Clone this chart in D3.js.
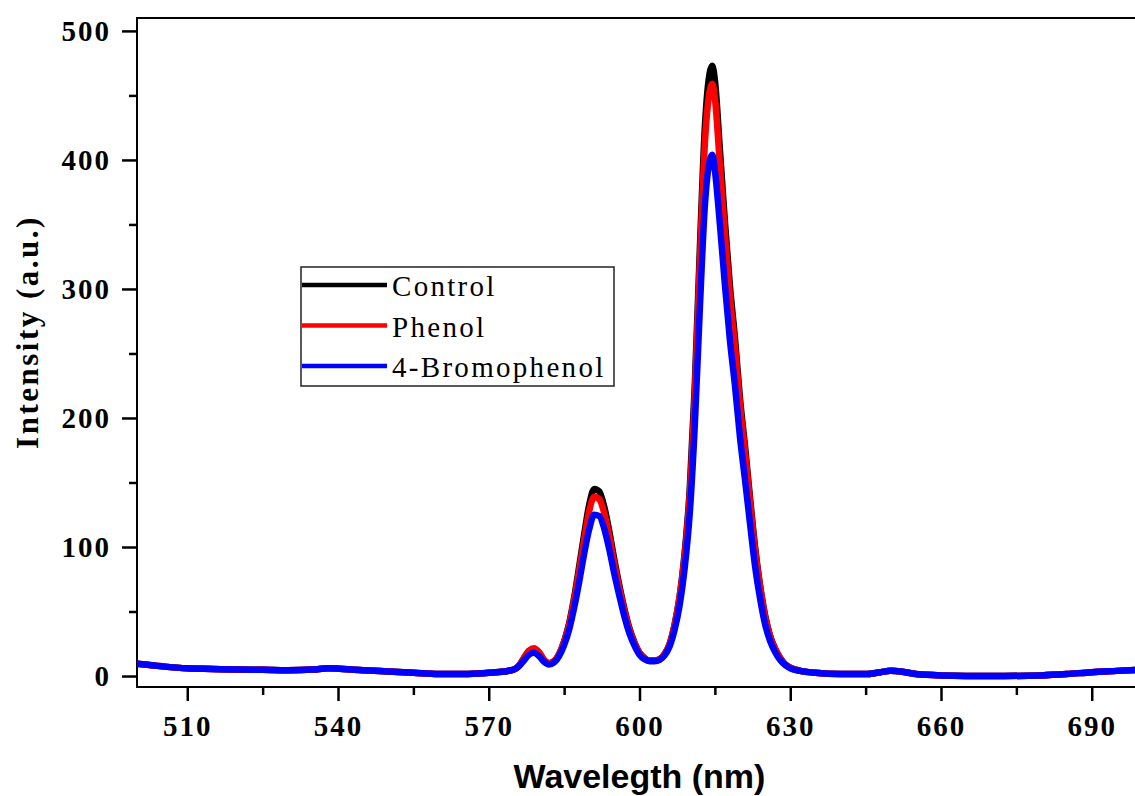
<!DOCTYPE html>
<html>
<head>
<meta charset="utf-8">
<script src="https://cdn.jsdelivr.net/npm/d3@7"></script>
<style>
  body { margin: 0; background: #fff; }
  svg { display: block; }
</style>
</head>
<body>
<div id="chart"></div>
<script>
// wavelength (nm)
const wavelengths = [500, 505, 510, 515, 520, 525, 530, 535, 538, 541, 545, 550, 555, 560, 565, 570, 573, 575,
  576, 577, 578, 579, 580, 581, 582, 583, 584, 585, 586, 587, 588, 589, 590, 591, 592, 593, 594, 595, 596, 597,
  598, 599, 600, 601, 602, 603, 604, 605, 606, 607, 608, 609, 610, 611, 612, 613, 614, 614.5, 615, 616, 617,
  618, 619, 620, 621, 622, 623, 624, 625, 626, 627, 628, 629, 630, 632, 635, 640, 645, 648, 650, 652, 655, 660,
  670, 680, 685, 690, 695, 700];

const controlValues = [9.5, 7.5, 6, 5.5, 5, 4.8, 4.5, 5, 6, 5.5, 4.5, 3.5, 2.5, 1.5, 1.5, 2.5, 3.5, 5,
  8, 14, 19.5, 21, 18, 12.5, 10, 11.5, 17, 27, 41, 61, 85, 110, 133, 145, 143, 131, 112, 90, 70, 52,
  37, 26, 18, 14, 12, 12, 13, 17, 25, 40, 62, 96, 145, 225, 330, 425, 468, 473, 462, 408, 352,
  302, 262, 215, 178, 138, 100, 70, 47, 31, 21, 14, 9, 6.5, 4, 2.5, 1.5, 1.5, 3, 4, 3.5, 1.5, 0.5,
  0, 0.5, 1.5, 3, 4, 5];

const phenolValues = [9.5, 7.5, 6, 5.5, 5, 4.8, 4.5, 5, 6, 5.5, 4.5, 3.5, 2.5, 1.5, 1.5, 2.5, 3.5, 5,
  8, 14, 19.5, 21.5, 18.5, 12.5, 10, 11.5, 17, 26.5, 40, 59, 82, 106, 128, 139, 137, 126, 108, 87, 68, 50.5,
  36, 25.5, 18, 14, 12, 12, 13, 17, 25, 40, 62, 94, 141, 218, 320, 412, 454, 459, 448, 396, 343,
  294, 256, 210, 174, 135, 98, 69, 46, 30.5, 21, 14, 9, 6.5, 4, 2.5, 1.5, 1.5, 3, 4, 3.5, 1.5, 0.5,
  0, 0.5, 1.5, 3, 4, 5];

const bromophenolValues = [9.5, 7.5, 6, 5.5, 5, 4.8, 4.5, 5, 6, 5.5, 4.5, 3.5, 2.5, 1.5, 1.5, 2.5, 3.5, 5,
  7.5, 12, 16.5, 18, 15.5, 11, 9, 10.5, 15.5, 24, 36, 53, 73, 95, 114, 125, 124, 114, 98, 79, 62, 46,
  33, 23.5, 16.5, 13, 11.5, 11.5, 12.5, 16, 23, 36, 55, 84, 126, 194, 284, 364, 400, 404, 392, 350, 303,
  260, 225, 185, 152, 118, 85, 60, 40, 27, 18.5, 12.5, 8.5, 6, 4, 2.5, 1.5, 1.5, 3, 4, 3.5, 1.5, 0.5,
  0, 0.5, 1.5, 3, 4, 5];

const seriesNames = ["Control", "Phenol", "4-Bromophenol"];
const seriesColors = ["#000000", "#ff0000", "#0000ff"];

const xMajorTicks = [510, 540, 570, 600, 630, 660, 690];
const xMinorTicks = [525, 555, 585, 615, 645, 675];
const yMajorTicks = [0, 100, 200, 300, 400, 500];
const yMinorTicks = [50, 150, 250, 350, 450];

const width = 1135, height = 796;
const plot = { left: 137, top: 18, bottom: 687, right: 1142 };

const svg = d3.select("#chart")
  .append("svg")
  .attr("width", width)
  .attr("height", height);

const x = d3.scaleLinear()
  .domain([500, 700])
  .range([plot.left, plot.right]);

const y = d3.scaleLinear()
  .domain([-8.5, 510])
  .range([plot.bottom, plot.top]);

const serifFont = "'Liberation Serif', 'Times New Roman', serif";

// frame (top + left + bottom lines)
svg.append("rect")
  .attr("x", plot.left)
  .attr("y", plot.top)
  .attr("width", plot.right - plot.left)
  .attr("height", plot.bottom - plot.top)
  .attr("fill", "none")
  .attr("stroke", "#000")
  .attr("stroke-width", 2);

// X axis
const xAxis = svg.append("g")
  .attr("transform", `translate(0, ${plot.bottom})`)
  .call(d3.axisBottom(x).tickValues(xMajorTicks).tickSize(14).tickSizeOuter(0).tickPadding(14));
xAxis.select(".domain").remove();
xAxis.selectAll(".tick line").attr("stroke-width", 2.5);
xAxis.selectAll(".tick text")
  .attr("font-family", serifFont)
  .attr("font-weight", "bold")
  .attr("font-size", "29px")
  .attr("letter-spacing", "2px")
  .attr("fill", "#000");

svg.append("g")
  .attr("transform", `translate(0, ${plot.bottom})`)
  .call(d3.axisBottom(x).tickValues(xMinorTicks).tickSize(8).tickSizeOuter(0).tickFormat(""))
  .call(g => g.select(".domain").remove())
  .selectAll(".tick line").attr("stroke-width", 2.5);

// Y axis
const yAxis = svg.append("g")
  .attr("transform", `translate(${plot.left}, 0)`)
  .call(d3.axisLeft(y).tickValues(yMajorTicks).tickSize(15).tickSizeOuter(0).tickPadding(11));
yAxis.select(".domain").remove();
yAxis.selectAll(".tick line").attr("stroke-width", 2.5);
yAxis.selectAll(".tick text")
  .attr("font-family", serifFont)
  .attr("font-weight", "bold")
  .attr("font-size", "29px")
  .attr("letter-spacing", "2px")
  .attr("fill", "#000");

svg.append("g")
  .attr("transform", `translate(${plot.left}, 0)`)
  .call(d3.axisLeft(y).tickValues(yMinorTicks).tickSize(8).tickSizeOuter(0).tickFormat(""))
  .call(g => g.select(".domain").remove())
  .selectAll(".tick line").attr("stroke-width", 2.5);

// Lines
const seriesValues = [controlValues, phenolValues, bromophenolValues];
const line = d3.line()
  .x(d => x(d[0]))
  .y(d => y(d[1]))
  .curve(d3.curveMonotoneX);

svg.append("clipPath").attr("id", "plotClip")
  .append("rect")
  .attr("x", plot.left)
  .attr("y", plot.top)
  .attr("width", plot.right - plot.left)
  .attr("height", plot.bottom - plot.top);

svg.append("g")
  .attr("clip-path", "url(#plotClip)")
  .selectAll("path")
  .data(seriesValues)
  .enter()
  .append("path")
  .attr("d", vals => line(wavelengths.map((w, i) => [w, vals[i]])))
  .attr("fill", "none")
  .attr("stroke", (d, i) => seriesColors[i])
  .attr("stroke-width", 6.5)
  .attr("stroke-linejoin", "round");

// Legend
const legend = svg.append("g");
legend.append("rect")
  .attr("x", 301)
  .attr("y", 267)
  .attr("width", 313)
  .attr("height", 119)
  .attr("fill", "#fff")
  .attr("stroke", "#222")
  .attr("stroke-width", 1.5);

const legendItems = legend.selectAll(".item")
  .data(seriesNames)
  .enter()
  .append("g")
  .attr("class", "item")
  .attr("transform", (d, i) => `translate(0, ${285 + i * 40.5})`);

legendItems.append("line")
  .attr("x1", 302)
  .attr("x2", 387)
  .attr("stroke", (d, i) => seriesColors[i])
  .attr("stroke-width", 4.5);

legendItems.append("text")
  .attr("x", 392)
  .attr("y", 11)
  .attr("font-family", serifFont)
  .attr("font-size", "29px")
  .attr("letter-spacing", "2.3px")
  .attr("fill", "#000")
  .text(d => d);

// Axis titles
svg.append("text")
  .attr("x", x(600))
  .attr("y", 788)
  .attr("text-anchor", "middle")
  .attr("font-family", "'Liberation Sans', Arial, sans-serif")
  .attr("font-weight", "bold")
  .attr("font-size", "34px")
  .attr("fill", "#000")
  .text("Wavelegth (nm)");

svg.append("text")
  .attr("transform", "translate(38, 332) rotate(-90)")
  .attr("text-anchor", "middle")
  .attr("font-family", serifFont)
  .attr("font-weight", "bold")
  .attr("font-size", "31px")
  .attr("letter-spacing", "2.5px")
  .attr("fill", "#000")
  .text("Intensity (a.u.)");
</script>
</body>
</html>
